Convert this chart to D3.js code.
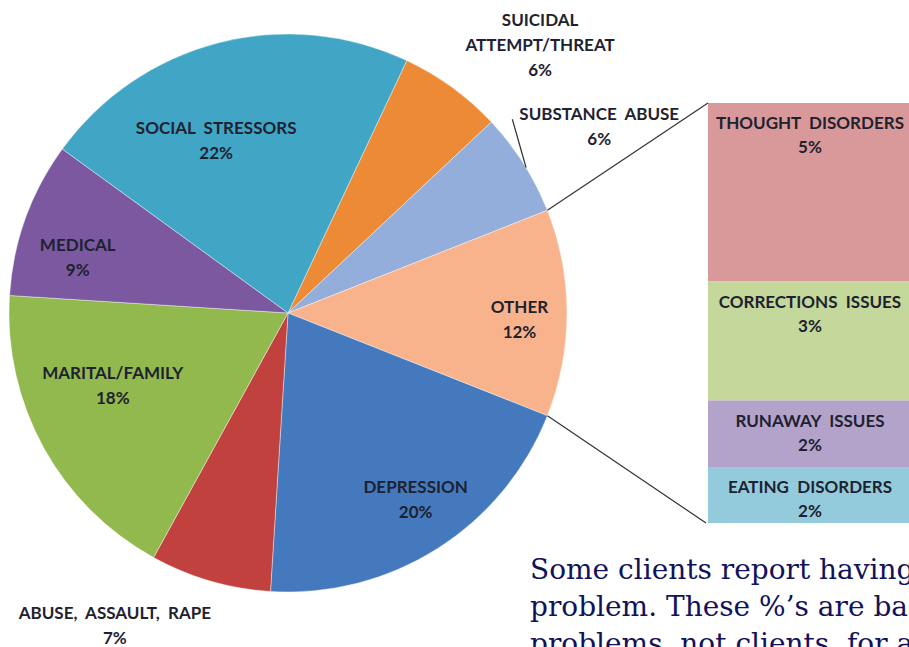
<!DOCTYPE html>
<html>
<head>
<meta charset="utf-8">
<script src="https://cdn.jsdelivr.net/npm/d3@7"></script>
<style>
  html, body { margin: 0; padding: 0; background: #ffffff; overflow: hidden; }
  svg { display: block; }
  .lbl { font-family: Lato, "Open Sans", sans-serif; font-weight: 700; font-size: 17px; fill: #1e2230; white-space: pre; }
  .note { font-family: "DejaVu Serif", "Liberation Serif", serif; font-size: 28px; fill: #12125a; }
</style>
</head>
<body>
<svg id="chart" width="909" height="647"></svg>
<script>
// ---------- data ----------
const categories = ["SUICIDAL ATTEMPT/THREAT", "SUBSTANCE ABUSE", "OTHER", "DEPRESSION",
                    "ABUSE, ASSAULT, RAPE", "MARITAL/FAMILY", "MEDICAL", "SOCIAL STRESSORS"];
const labelLines = [["SUICIDAL", "ATTEMPT/THREAT"], ["SUBSTANCE  ABUSE"], ["OTHER"], ["DEPRESSION"],
                    ["ABUSE,  ASSAULT,  RAPE"], ["MARITAL/FAMILY"], ["MEDICAL"], ["SOCIAL  STRESSORS"]];
const pieValues = [6, 6, 12, 20, 7, 18, 9, 22];
const pieColors = ["#ec8a35", "#93aedb", "#f9b38c", "#4579bd", "#c1413e", "#91b94d", "#7b58a0", "#41a5c6"];

const subCategories = ["THOUGHT  DISORDERS", "CORRECTIONS  ISSUES", "RUNAWAY  ISSUES", "EATING  DISORDERS"];
const subValues = [5.1, 3.4, 1.9, 1.6];
const subColors = ["#d9999a", "#c4d89c", "#b3a3cb", "#93cbdc"];

const noteLines = ["Some clients report having more than one",
                   "problem. These %\u2019s are based on the number of",
                   "problems, not clients, for all calls."];

// label placement (angle nudge in degrees from slice middle, radius factor)
const labelPlacement = [
  {da: 7.2, rf: 1.32, leader: false},
  {da: 1.5, rf: 1.30, leader: true},
  {da: 1.7, rf: 0.83, leader: false},
  {da: -2.0, rf: 0.81, leader: false},
  {da: 12.8, rf: 1.28, leader: false},
  {da: 6.3, rf: 0.68, leader: false},
  {da: -4.9, rf: 0.78, leader: false},
  {da: -8.2, rf: 0.67, leader: false}
];

// ---------- layout ----------
const svg = d3.select("#chart");
const cx = 288, cy = 313, R = 279;
const otherIndex = categories.indexOf("OTHER");
const total = d3.sum(pieValues);
const before = d3.sum(pieValues.slice(0, otherIndex)) + pieValues[otherIndex] / 2;
const startAngle = Math.PI / 2 - before / total * 2 * Math.PI;

const pie = d3.pie().sort(null).value(d => d).startAngle(startAngle).endAngle(startAngle + 2 * Math.PI);
const arcs = pie(pieValues);
const arc = d3.arc().innerRadius(0).outerRadius(R);

const g = svg.append("g").attr("transform", `translate(${cx},${cy})`);
g.selectAll("path.slice").data(arcs).join("path")
  .attr("class", "slice")
  .attr("d", arc)
  .attr("fill", (d, i) => pieColors[i])
  .attr("stroke", "#ffffff").attr("stroke-opacity", 0.5).attr("stroke-width", 0.8);

const polar = (a, r) => [Math.sin(a) * r, -Math.cos(a) * r];
const lineGap = 25;

arcs.forEach((d, i) => {
  const p = labelPlacement[i];
  const mid = (d.startAngle + d.endAngle) / 2 + p.da * Math.PI / 180;
  const [lx, ly] = polar(mid, R * p.rf);
  const lines = labelLines[i].concat([Math.round(d.value) + "%"]);
  const n = lines.length;
  const t = g.append("text").attr("class", "lbl").attr("text-anchor", "middle");
  lines.forEach((s, k) => {
    t.append("tspan").attr("x", lx).attr("y", ly + (k - (n - 1) / 2) * lineGap + 6).text(s);
  });
  if (p.leader) {
    const bb = t.node().getBBox();
    const [ax, ay] = polar((d.startAngle + d.endAngle) / 2 + 0.017, R);
    g.append("line").attr("x1", ax).attr("y1", ay)
      .attr("x2", bb.x - 7).attr("y2", bb.y + 16)
      .attr("stroke", "#333").attr("stroke-width", 1.2);
  }
});

// ---------- secondary stacked bar ----------
const barX = 708, barW = 204;
const y = d3.scaleLinear().domain([0, d3.sum(subValues)]).range([103, 523]);
const cum = d3.cumsum(subValues);
const segs = subValues.map((v, i) => ({v, i, y0: cum[i] - v, y1: cum[i]}));

svg.selectAll("rect.seg").data(segs).join("rect")
  .attr("class", "seg")
  .attr("x", barX).attr("width", barW)
  .attr("y", d => y(d.y0)).attr("height", d => y(d.y1) - y(d.y0))
  .attr("fill", d => subColors[d.i]);

segs.forEach(d => {
  const t = svg.append("text").attr("class", "lbl").attr("text-anchor", "middle");
  t.append("tspan").attr("x", barX + barW / 2).attr("y", y(d.y0) + 26).text(subCategories[d.i]);
  t.append("tspan").attr("x", barX + barW / 2).attr("y", y(d.y0) + 50).text(Math.round(d.v) + "%");
});

// connector lines from OTHER slice to bar
const oa = arcs[otherIndex];
const [p1x, p1y] = polar(oa.startAngle, R);
const [p2x, p2y] = polar(oa.endAngle, R);
svg.append("line").attr("x1", cx + p1x).attr("y1", cy + p1y).attr("x2", barX).attr("y2", y(0))
  .attr("stroke", "#333").attr("stroke-width", 1.2);
svg.append("line").attr("x1", cx + p2x).attr("y1", cy + p2y).attr("x2", barX - 2).attr("y2", y(d3.sum(subValues)))
  .attr("stroke", "#333").attr("stroke-width", 1.2);

// ---------- note ----------
const note = svg.append("text").attr("class", "note");
noteLines.forEach((s, k) => {
  note.append("tspan").attr("x", 530).attr("y", 579 + k * 37).text(s);
});
</script>
</body>
</html>
